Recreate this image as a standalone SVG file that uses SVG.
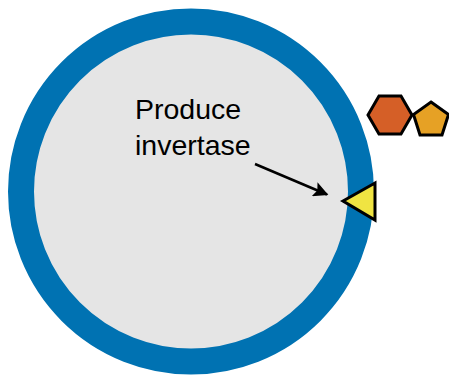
<svg xmlns="http://www.w3.org/2000/svg" width="449" height="375" viewBox="0 0 449 375">
  <defs>
    <style>
      .cell { fill: #e5e5e5; stroke: #0072b2; stroke-width: 26; }
      .shape { stroke: #000; stroke-width: 3; stroke-linejoin: miter; }
      .label { font-family: "Liberation Sans", Arial, sans-serif; font-size: 28.5px; fill: #000; }
      .conn { stroke: #000; stroke-width: 2.5; fill: none; }
    </style>
    <marker id="arrow" viewBox="0 0 10 10" refX="9" refY="5" markerWidth="6.4" markerHeight="6" markerUnits="strokeWidth" orient="auto">
      <path d="M0,0 L10,5 L0,10 L2,5 Z" fill="#000"/>
    </marker>
  </defs>

  <!-- cell with wall -->
  <g id="cell">
    <circle class="cell" cx="191" cy="191.5" r="170"/>
  </g>

  <g id="label">
    <text class="label" x="135" y="119">Produce</text>
    <text class="label" x="135" y="155">invertase</text>
  </g>

  <!-- invertase enzyme on the cell wall -->
  <g id="invertase">
    <polygon class="shape" fill="#f0e442" points="343,201 375,183 375,220"/>
  </g>

  <!-- sucrose: glucose + fructose -->
  <g id="glucose">
    <polygon class="shape" fill="#d55f27" points="368,115 379,96 401,96 412,115 401,134 379,134"/>
  </g>
  <g id="fructose">
    <polygon class="shape" fill="#e6a125" points="431,102 448.5,114.5 442,135 420,135 413.5,114.5"/>
  </g>

  <g id="connectors">
    <line class="conn" x1="255" y1="164" x2="327" y2="194.5" marker-end="url(#arrow)"/>
  </g>
</svg>
